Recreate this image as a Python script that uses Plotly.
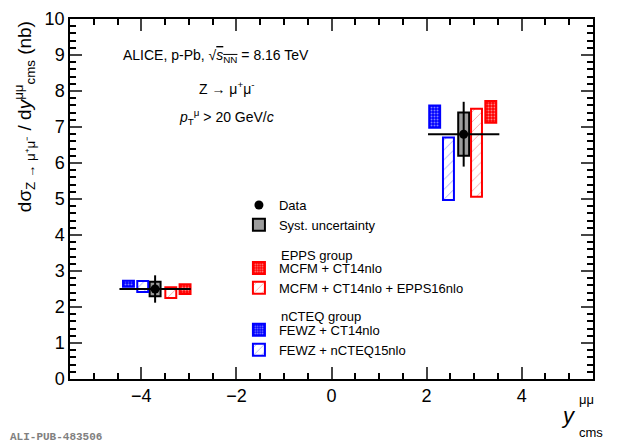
import plotly.graph_objects as go

# measured Z -> mumu cross section, backward and forward rapidity
y_center = [-3.71, 2.78]
y_halfwidth = [0.75, 0.75]
xsec = [2.5, 6.8]
stat_err = [0.38, 0.9]
syst_err = [0.2, 0.6]

# model predictions: (x position, low, high) for each rapidity range
fewz_ct14_x = [-4.27, 2.17]
fewz_ct14_lo = [2.56, 6.98]
fewz_ct14_hi = [2.73, 7.60]

fewz_ncteq_x = [-3.97, 2.46]
fewz_ncteq_lo = [2.42, 4.97]
fewz_ncteq_hi = [2.72, 6.71]

mcfm_epps_x = [-3.38, 3.05]
mcfm_epps_lo = [2.25, 5.06]
mcfm_epps_hi = [2.55, 7.51]

mcfm_ct14_x = [-3.08, 3.35]
mcfm_ct14_lo = [2.36, 7.12]
mcfm_ct14_hi = [2.63, 7.72]

FONT = "Liberation Sans, Arial, Helvetica, sans-serif"
BOXW = 0.23
RED = "#ff0000"
BLUE = "#0000ff"


def band(x, lo, hi, name, legend, color, dotted):
    if dotted:
        pattern = dict(shape=".", fgcolor="white", bgcolor=color, size=3, solidity=0.35)
        fill = color
    else:
        pattern = dict(shape="/", fgcolor=color, bgcolor="white", size=7, solidity=0.1)
        fill = "white"
    return go.Bar(
        x=x, y=[h - l for l, h in zip(lo, hi)], base=lo, width=BOXW,
        name=name, legend=legend,
        marker=dict(color=fill, line=dict(color=color, width=2), pattern=pattern),
    )


fig = go.Figure()

fig.add_trace(go.Scatter(
    x=y_center, y=xsec, mode="markers", name="Data", legend="legend",
    marker=dict(color="black", size=9),
    error_y=dict(type="data", array=stat_err, color="black", thickness=2, width=0),
    error_x=dict(type="data", array=y_halfwidth, color="black", thickness=2, width=0),
))
fig.add_trace(go.Bar(
    x=y_center, y=[2 * s for s in syst_err],
    base=[v - s for v, s in zip(xsec, syst_err)], width=BOXW,
    name="Syst. uncertainty", legend="legend",
    marker=dict(color="#9c9c9c", line=dict(color="black", width=2)),
))

fig.add_trace(band(mcfm_ct14_x, mcfm_ct14_lo, mcfm_ct14_hi, "MCFM + CT14nlo",
                   "legend2", RED, True))
fig.add_trace(band(mcfm_epps_x, mcfm_epps_lo, mcfm_epps_hi,
                   "MCFM + CT14nlo + EPPS16nlo", "legend2", RED, False))
fig.add_trace(band(fewz_ct14_x, fewz_ct14_lo, fewz_ct14_hi, "FEWZ + CT14nlo",
                   "legend3", BLUE, True))
fig.add_trace(band(fewz_ncteq_x, fewz_ncteq_lo, fewz_ncteq_hi,
                   "FEWZ + nCTEQ15nlo", "legend3", BLUE, False))

# the page body has an 8px margin, so the figure is 8px smaller each way
leg = dict(x=0.323, xanchor="left", yanchor="top", font=dict(size=13),
           bgcolor="rgba(0,0,0,0)")
fig.update_layout(
    width=612, height=440,
    margin=dict(l=62, r=27, t=11, b=69),
    plot_bgcolor="white", paper_bgcolor="white",
    barmode="overlay",
    font=dict(family=FONT, color="black", size=13),
    legend=dict(leg, y=0.525),
    legend2=dict(leg, y=0.35),
    legend3=dict(leg, y=0.178),
    showlegend=True,
)

fig.update_xaxes(
    range=[-5.5, 5.5], dtick=2, tick0=0, ticks="inside", ticklen=12,
    tickwidth=1.5, showline=True, linecolor="black", linewidth=1.5,
    mirror="allticks", showgrid=False, zeroline=False, automargin=False,
    tickfont=dict(size=18), tickformat="d",
    minor=dict(dtick=0.5, ticks="inside", ticklen=6, tickwidth=1.5, tickcolor="black"),
)
fig.update_yaxes(
    range=[0, 10], dtick=1, ticks="inside", ticklen=12,
    tickwidth=1.5, showline=True, linecolor="black", linewidth=1.5,
    mirror="allticks", showgrid=False, zeroline=False, automargin=False,
    tickfont=dict(size=18),
    minor=dict(dtick=0.2, ticks="inside", ticklen=6, tickwidth=1.5, tickcolor="black"),
)

labels = [
    ("ALICE, p-Pb, √<span style='text-decoration:overline'><i>s</i><sub>NN</sub></span> = 8.16 TeV", 0.279, 0.897),
    ("Z → μ<sup>+</sup>μ<sup>-</sup>", 0.30, 0.808),
    ("<i>p</i><sub>T</sub><sup>μ</sup> > 20 GeV/<i>c</i>", 0.30, 0.728),
]
for txt, xx, yy in labels:
    fig.add_annotation(text=txt, x=xx, y=yy, xref="paper", yref="paper",
                       showarrow=False, font=dict(size=14),
                       xanchor="center", yanchor="middle")

for txt, yy in [("EPPS group", 0.344), ("nCTEQ group", 0.175)]:
    fig.add_annotation(text=txt, x=0.400, y=yy, xref="paper", yref="paper",
                       showarrow=False, font=dict(size=13),
                       xanchor="left", yanchor="middle")

# y-axis title
fig.add_annotation(
    text="dσ<sub>Z → μ⁺μ⁻</sub> / d<i>y</i><sup>μμ</sup><sub>cms</sub> (nb)",
    x=-0.088, y=0.73, xref="paper", yref="paper", textangle=-90,
    showarrow=False, font=dict(size=19), xanchor="center", yanchor="middle",
)
# x-axis title, super and subscript stacked
fig.add_annotation(text="<i>y</i>", x=0.971, y=-0.10, xref="paper", yref="paper",
                   showarrow=False, font=dict(size=22), xanchor="right", yanchor="middle")
fig.add_annotation(text="μμ", x=0.969, y=-0.058, xref="paper", yref="paper",
                   showarrow=False, font=dict(size=13), xanchor="left", yanchor="middle")
fig.add_annotation(text="cms", x=0.969, y=-0.15, xref="paper", yref="paper",
                   showarrow=False, font=dict(size=13), xanchor="left", yanchor="middle")

fig.add_annotation(text="<b>ALI-PUB-483506</b>", x=-0.119, y=-0.161, xref="paper",
                   yref="paper", xanchor="left", yanchor="middle", showarrow=False,
                   font=dict(family="Liberation Mono, Courier New, monospace",
                             size=11, color="#808080"))

fig.write_html("out.html")
